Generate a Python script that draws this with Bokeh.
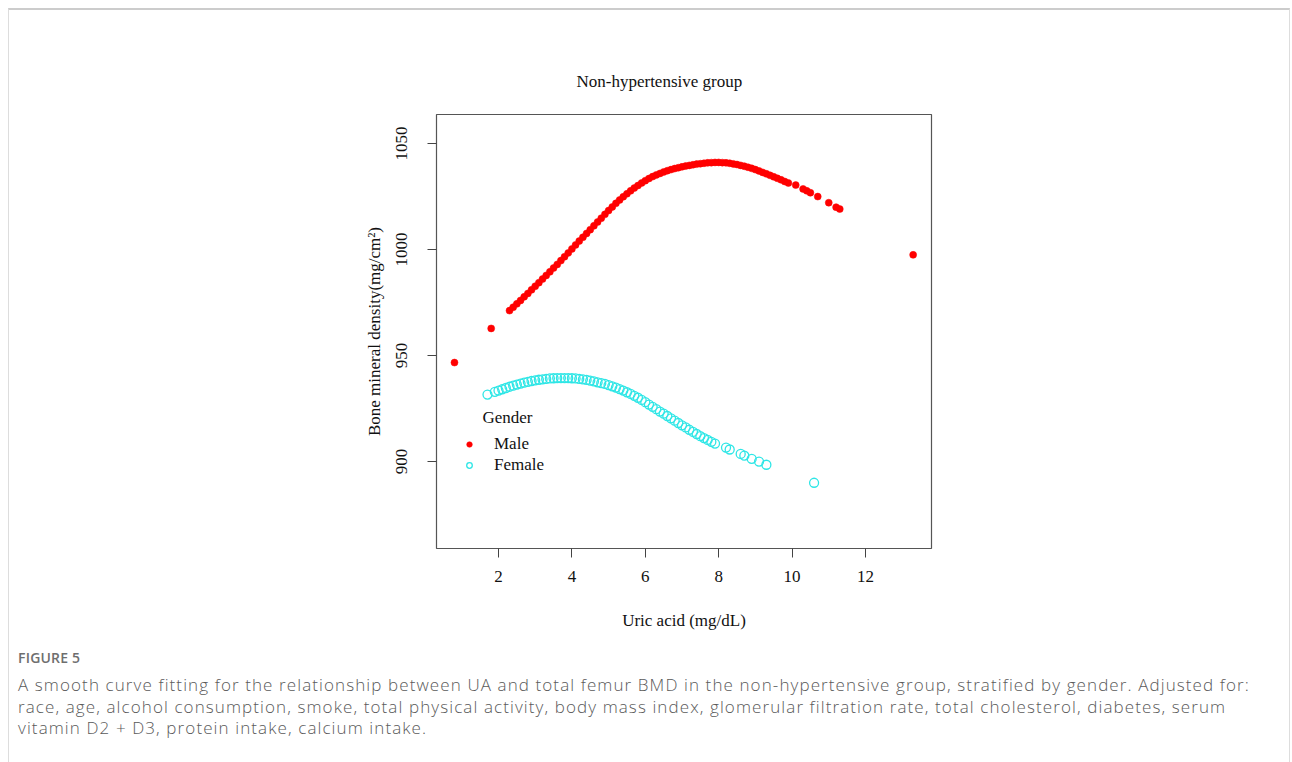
from bokeh.plotting import figure
from bokeh.models import Range1d, Label, Legend, LegendItem, FixedTicker, Div
from bokeh.layouts import column
from bokeh.embed import file_html
from bokeh.resources import INLINE

# ---------------- data ----------------
male_x = [0.8, 1.8,
          2.3, 2.4, 2.5, 2.6, 2.7, 2.8, 2.9, 3.0, 3.1, 3.2, 3.3, 3.4, 3.5, 3.6, 3.7, 3.8, 3.9,
          4.0, 4.1, 4.2, 4.3, 4.4, 4.5, 4.6, 4.7, 4.8, 4.9, 5.0, 5.1, 5.2, 5.3, 5.4, 5.5, 5.6,
          5.7, 5.8, 5.9, 6.0, 6.1, 6.2, 6.3, 6.4, 6.5, 6.6, 6.7, 6.8, 6.9, 7.0, 7.1, 7.2, 7.3,
          7.4, 7.5, 7.6, 7.7, 7.8, 7.9, 8.0, 8.1, 8.2, 8.3, 8.4, 8.5, 8.6, 8.7, 8.8, 8.9, 9.0,
          9.1, 9.2, 9.3, 9.4, 9.5, 9.6, 9.7, 9.8, 9.9,
          10.1, 10.3, 10.4, 10.5, 10.7, 11.0, 11.2, 11.3, 13.3]
male_y = [946.7, 962.8,
          971.2, 972.8, 974.4, 976.0, 977.7, 979.3, 981.0, 982.7, 984.4, 986.1, 987.8, 989.5,
          991.3, 993.0, 994.8, 996.6, 998.4, 1000.3, 1002.2, 1004.0, 1005.8, 1007.6, 1009.4,
          1011.2, 1013.0, 1014.8, 1016.6, 1018.4, 1020.1, 1021.8, 1023.4, 1024.9, 1026.3,
          1027.7, 1029.0, 1030.2, 1031.4, 1032.5, 1033.5, 1034.4, 1035.2, 1035.9, 1036.6,
          1037.2, 1037.7, 1038.2, 1038.6, 1039.0, 1039.4, 1039.7, 1040.0, 1040.3, 1040.5,
          1040.7, 1040.9, 1041.0, 1041.1, 1041.1, 1041.0, 1040.9, 1040.7, 1040.4, 1040.1,
          1039.7, 1039.3, 1038.8, 1038.3, 1037.7, 1037.1, 1036.4, 1035.7, 1035.0, 1034.3,
          1033.6, 1032.9, 1032.1, 1031.4,
          1030.4, 1028.6, 1027.7, 1026.8, 1025.0, 1022.1, 1020.0, 1019.1, 997.5]

female_x = [1.7,
            1.9, 2.0, 2.1, 2.2, 2.3, 2.4, 2.5, 2.6, 2.7, 2.8, 2.9, 3.0, 3.1, 3.2, 3.3, 3.4,
            3.5, 3.6, 3.7, 3.8, 3.9, 4.0, 4.1, 4.2, 4.3, 4.4, 4.5, 4.6, 4.7, 4.8, 4.9, 5.0,
            5.1, 5.2, 5.3, 5.4, 5.5, 5.6, 5.7, 5.8, 5.9, 6.0, 6.1, 6.2, 6.3, 6.4, 6.5, 6.6,
            6.7, 6.8, 6.9, 7.0, 7.1, 7.2, 7.3, 7.4, 7.5, 7.6, 7.7, 7.8, 7.9,
            8.2, 8.3, 8.6, 8.7, 8.9, 9.1, 9.3, 10.6]
female_y = [931.6,
            932.9, 933.5, 934.1, 934.7, 935.3, 935.8, 936.3, 936.8, 937.2, 937.6, 938.0,
            938.3, 938.6, 938.8, 939.0, 939.2, 939.3, 939.4, 939.4, 939.4, 939.4, 939.3,
            939.2, 939.0, 938.8, 938.5, 938.2, 937.8, 937.4, 937.0, 936.6, 936.1, 935.5,
            934.9, 934.2, 933.5, 932.7, 931.9, 931.0, 930.1, 929.1, 928.0, 926.9, 925.8,
            924.7, 923.6, 922.6, 921.5, 920.4, 919.3, 918.2, 917.1, 916.1, 915.0, 914.0,
            913.0, 912.0, 911.1, 910.2, 909.3, 908.5,
            906.6, 905.7, 903.6, 902.8, 901.3, 900.0, 898.5, 890.0]

x_ticks = [2, 4, 6, 8, 10, 12]
y_ticks = [900, 950, 1000, 1050]

title_text = "Non-hypertensive group"
x_title = "Uric acid (mg/dL)"
y_title = "Bone mineral density(mg/cm\u00b2)"
legend_title = "Gender"
series_names = ["Male", "Female"]
caption_head = "FIGURE 5"
caption_lines = [
    "A smooth curve fitting for the relationship between UA and total femur BMD in the non-hypertensive group, stratified by gender. Adjusted for:",
    "race, age, alcohol consumption, smoke, total physical activity, body mass index, glomerular filtration rate, total cholesterol, diabetes, serum",
    "vitamin D2 + D3, protein intake, calcium intake.",
]

# ---------------- figure ----------------
SERIF = "Liberation Serif"
FS = "17px"

p = figure(width=1280, height=630, title=title_text,
           x_range=Range1d(0.31, 13.8), y_range=Range1d(859.0, 1063.7),
           output_backend="svg", toolbar_location=None,
           min_border_left=427, min_border_right=358,
           min_border_top=104, min_border_bottom=92)
p.grid.visible = False
p.outline_line_color = "#555555"
p.outline_line_width = 1.2
p.background_fill_color = "white"
p.border_fill_color = "white"

p.title.align = "left"
p.title.offset = 140
p.title.text_font = SERIF
p.title.text_font_size = FS
p.title.text_font_style = "normal"
p.title.text_color = "#111111"
if "standoff" in p.title.properties():
    p.title.standoff = 48

for ax in (p.xaxis[0], p.yaxis[0]):
    ax.axis_line_color = None
    ax.major_tick_in = 0
    ax.major_tick_out = 9
    ax.minor_tick_line_color = None
    ax.major_tick_line_color = "#444444"
    ax.major_label_text_font = SERIF
    ax.major_label_text_font_size = FS
    ax.major_label_text_color = "#111111"
    ax.axis_label_text_font = SERIF
    ax.axis_label_text_font_size = FS
    ax.axis_label_text_font_style = "normal"
    ax.axis_label_text_color = "#111111"

p.xaxis.ticker = FixedTicker(ticks=x_ticks)
p.yaxis.ticker = FixedTicker(ticks=y_ticks)
p.xaxis.axis_label = x_title
p.yaxis.axis_label = y_title
p.xaxis.major_label_standoff = 13
p.xaxis.axis_label_standoff = 26
p.yaxis.major_label_orientation = "vertical"
p.yaxis.major_label_standoff = 20
p.yaxis.axis_label_standoff = 10

rm = p.scatter(male_x, male_y, size=7, marker="circle",
               fill_color="#FF0000", line_color="#FF0000", line_width=0.5)
rf = p.scatter(female_x, female_y, size=9, marker="circle",
               fill_color=None, line_color="#2EE6E6", line_width=1.3)

legend = Legend(items=[LegendItem(label=series_names[0], renderers=[rm]),
                       LegendItem(label=series_names[1], renderers=[rf])],
                location=(26, 73), border_line_color=None, background_fill_alpha=0,
                padding=0, margin=0, spacing=1, glyph_width=14, glyph_height=16,
                label_height=16, label_standoff=18,
                label_text_font=SERIF, label_text_font_size=FS,
                label_text_color="#111111")
p.add_layout(legend)

p.add_layout(Label(x=46, y=131, x_units="screen", y_units="screen",
                   text=legend_title, text_align="left", text_baseline="middle",
                   text_font=SERIF, text_font_size=FS, text_color="#111111"))

# ---------------- caption ----------------
caption_html = (
    '<div style="font-family:\'Open Sans\',sans-serif;font-weight:600;font-size:14px;'
    'letter-spacing:0.2px;color:#6e6e6e;line-height:20px;margin-top:3px;">'
    + caption_head + '</div>'
    '<div style="font-family:\'Open Sans\',sans-serif;font-weight:300;font-size:17px;'
    'letter-spacing:1.1px;color:#5a5a5a;line-height:21.5px;margin-top:6px;'
    'white-space:nowrap;">'
    + "<br>".join(caption_lines) + '</div>'
)
caption = Div(text=caption_html, width=1270, height=120,
              styles={"padding-left": "4px"})

layout = column(p, caption, spacing=0,
                styles={"border": "1px solid #dddddd",
                        "border-top": "2px solid #cccccc",
                        "margin": "8px 0 0 8px"})

open("out.html", "w").write(file_html(layout, INLINE))
